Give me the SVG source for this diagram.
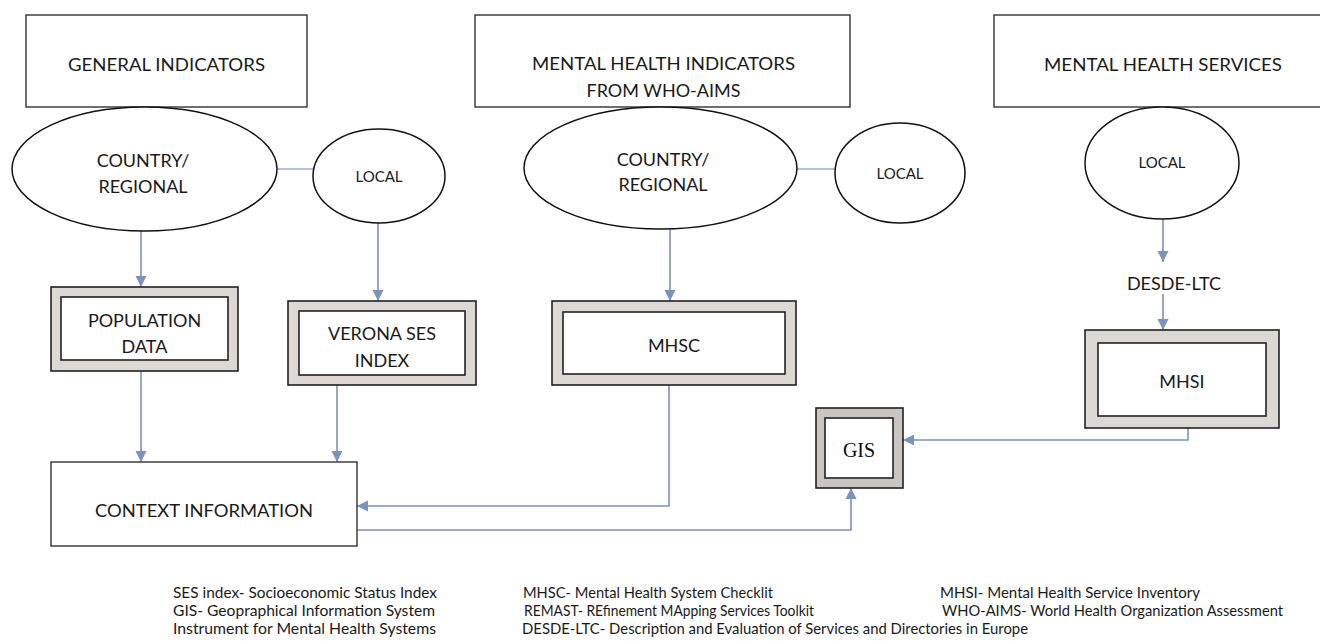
<svg xmlns="http://www.w3.org/2000/svg" width="1320" height="641" viewBox="0 0 1320 641">
<defs>
<marker id="ah" markerUnits="userSpaceOnUse" markerWidth="12" markerHeight="12" refX="11" refY="6" orient="auto">
<path d="M0,0.5 L11,6 L0,11.5 z" fill="#7b93bd"/>
</marker>
</defs>
<style>
.t{font-family:Lato,"Open Sans","Liberation Sans",sans-serif;fill:#1a1a1a;text-anchor:middle}
.big{font-size:18px}
.mid{font-size:15px}
.leg{font-family:Lato,"Open Sans","Liberation Sans",sans-serif;font-size:15px;fill:#1a1a1a}
.box{fill:#fff;stroke:#333;stroke-width:1.4}
.ell{fill:#fff;stroke:#111;stroke-width:1.5}
.outer{fill:#dcd8d4;stroke:#222;stroke-width:1.6}
.inner{fill:#fff;stroke:#222;stroke-width:1.6}
.c{fill:none;stroke:#7b93bd;stroke-width:1.6}
.cl{fill:none;stroke:#9fadc9;stroke-width:1.3}
</style>
<rect width="1320" height="641" fill="#fff"/>

<g id="connectors">
<line class="cl" x1="277" y1="169" x2="313" y2="169"/>
<line class="cl" x1="797" y1="169" x2="835" y2="169"/>
<path class="c" d="M141,231 V287" marker-end="url(#ah)"/>
<path class="c" d="M378,222 V301" marker-end="url(#ah)"/>
<path class="c" d="M670,229 V301" marker-end="url(#ah)"/>
<path class="c" d="M1163,219 V262" marker-end="url(#ah)"/>
<path class="c" d="M1163,294 V330" marker-end="url(#ah)"/>
<path class="c" d="M141,371 V462" marker-end="url(#ah)"/>
<path class="c" d="M337,385 V462" marker-end="url(#ah)"/>
<path class="c" d="M669,385 V506 H357" marker-end="url(#ah)"/>
<path class="c" d="M357,530 H851 V488" marker-end="url(#ah)"/>
<path class="c" d="M1188,428 V440 H903" marker-end="url(#ah)"/>
</g>

<g id="general-indicators">
<rect class="box" x="26" y="15" width="281" height="92"/>
<text class="t big" x="166.5" y="71" textLength="197" lengthAdjust="spacingAndGlyphs">GENERAL INDICATORS</text>
</g>
<g id="mh-indicators">
<rect class="box" x="475" y="15" width="375" height="92"/>
<text class="t big" x="663.5" y="70" textLength="263" lengthAdjust="spacingAndGlyphs">MENTAL HEALTH INDICATORS</text>
<text class="t big" x="663.5" y="97">FROM WHO-AIMS</text>
</g>
<g id="mh-services">
<rect class="box" x="994" y="15" width="340" height="92"/>
<text class="t big" x="1163" y="71" textLength="238" lengthAdjust="spacingAndGlyphs">MENTAL HEALTH SERVICES</text>
</g>

<g id="country-regional-1">
<ellipse class="ell" cx="144.5" cy="169" rx="132.5" ry="62"/>
<text class="t big" x="143" y="167">COUNTRY/</text>
<text class="t big" x="143" y="193">REGIONAL</text>
</g>
<g id="local-1">
<ellipse class="ell" cx="379" cy="176" rx="66" ry="47"/>
<text class="t mid" x="379" y="182">LOCAL</text>
</g>
<g id="country-regional-2">
<ellipse class="ell" cx="660.5" cy="168" rx="136.5" ry="61"/>
<text class="t big" x="663" y="166">COUNTRY/</text>
<text class="t big" x="663" y="191">REGIONAL</text>
</g>
<g id="local-2">
<ellipse class="ell" cx="900" cy="173" rx="65" ry="50"/>
<text class="t mid" x="900" y="179">LOCAL</text>
</g>
<g id="local-3">
<ellipse class="ell" cx="1162" cy="163" rx="77" ry="56"/>
<text class="t mid" x="1162" y="168">LOCAL</text>
</g>

<g id="population-data">
<rect class="outer" x="51" y="287" width="187" height="84"/>
<rect class="inner" x="61" y="297" width="167" height="63"/>
<text class="t big" x="144.5" y="327">POPULATION</text>
<text class="t big" x="144.5" y="353">DATA</text>
</g>
<g id="verona-ses">
<rect class="outer" x="288" y="301" width="188" height="84"/>
<rect class="inner" x="299" y="311" width="166" height="64"/>
<text class="t big" x="382" y="340">VERONA SES</text>
<text class="t big" x="382" y="367">INDEX</text>
</g>
<g id="mhsc">
<rect class="outer" x="552" y="301" width="244" height="84"/>
<rect class="inner" x="563" y="312" width="222" height="62"/>
<text class="t big" x="674" y="352">MHSC</text>
</g>
<g id="desde-ltc">
<text class="t big" x="1174" y="290">DESDE-LTC</text>
</g>
<g id="mhsi">
<rect class="outer" x="1085" y="330" width="194" height="98"/>
<rect class="inner" x="1098" y="343" width="168" height="73"/>
<text class="t big" x="1182" y="388">MHSI</text>
</g>
<g id="gis">
<rect class="outer" x="816" y="408" width="87" height="80" style="fill:#cbc5c2"/>
<rect class="inner" x="825" y="418" width="68" height="60"/>
<text x="859" y="457" style="font-family:'Liberation Serif','Times New Roman',serif;font-size:20px;fill:#111;text-anchor:middle">GIS</text>
</g>
<g id="context-information">
<rect class="box" x="51" y="462" width="306" height="84"/>
<text class="t big" x="204" y="517" textLength="218" lengthAdjust="spacingAndGlyphs">CONTEXT INFORMATION</text>
</g>

<g id="legend">
<text class="leg" x="173" y="598" textLength="264" lengthAdjust="spacingAndGlyphs">SES index- Socioeconomic Status Index</text>
<text class="leg" x="173" y="616" textLength="262" lengthAdjust="spacingAndGlyphs">GIS- Geopraphical Information System</text>
<text class="leg" x="173" y="634" textLength="263" lengthAdjust="spacingAndGlyphs">Instrument for Mental Health Systems</text>
<text class="leg" x="523" y="598" textLength="250" lengthAdjust="spacingAndGlyphs">MHSC- Mental Health System Checklit</text>
<text class="leg" x="524" y="616" textLength="290" lengthAdjust="spacingAndGlyphs">REMAST- REfinement MApping Services Toolkit</text>
<text class="leg" x="522" y="634" textLength="506" lengthAdjust="spacingAndGlyphs">DESDE-LTC- Description and Evaluation of Services and Directories in Europe</text>
<text class="leg" x="940" y="598" textLength="260" lengthAdjust="spacingAndGlyphs">MHSI- Mental Health Service Inventory</text>
<text class="leg" x="942" y="616" textLength="341" lengthAdjust="spacingAndGlyphs">WHO-AIMS- World Health Organization Assessment</text>
</g>
</svg>
